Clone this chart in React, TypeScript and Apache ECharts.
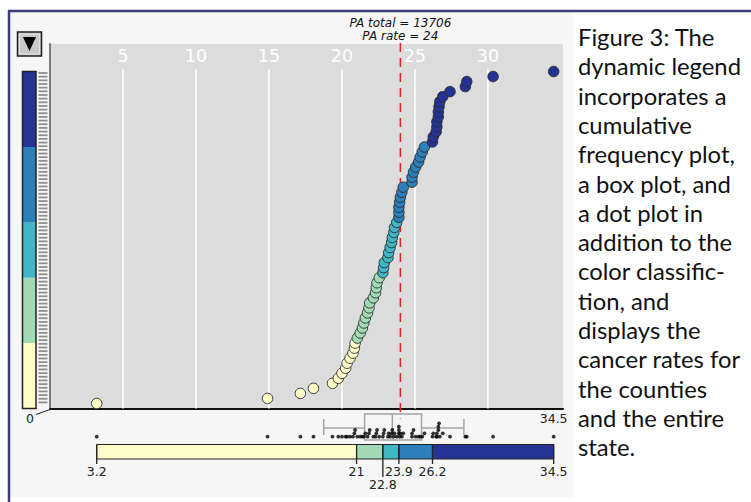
import React, { useEffect, useRef } from "react";
import * as echarts from "echarts";

// ---- data ----
const countyRates: number[] = [
  3.2, 14.9, 17.15, 18.05, 19.35, 19.75, 20.0, 20.25, 20.35, 20.55, 20.75, 20.85, 20.9,
  21.05, 21.25, 21.4, 21.5, 21.6, 21.75, 21.85, 21.9, 22.15, 22.3, 22.35, 22.4, 22.55,
  22.8, 22.85, 22.9, 23.15, 23.2, 23.3, 23.4, 23.45, 23.55, 23.6, 23.75,
  23.9, 23.9, 23.9, 23.95, 24.0, 24.1, 24.2, 24.8, 24.8, 24.9, 25.05, 25.25, 25.35, 25.5, 25.65,
  26.2, 26.25, 26.45, 26.5, 26.5, 26.6, 26.6, 26.65, 26.7, 26.9, 27.4, 28.45, 28.55, 30.35, 34.5,
];
const classBreaks: number[] = [3.2, 21, 22.8, 23.9, 26.2, 34.5];
const classColors: string[] = ["#ffffcc", "#a1dab4", "#41b6c4", "#2c7fb8", "#253494"];
const boxStats: number[] = [18.75, 21.55, 23.45, 25.45, 28.35];
const stateRate = 24;
const stateTotal = 13706;
const xTickValues: number[] = [5, 10, 15, 20, 25, 30];
const captionLines: string[] = [
  "Figure 3: The",
  "dynamic legend",
  "incorporates a",
  "cumulative",
  "frequency plot,",
  "a box plot, and",
  "a dot plot in",
  "addition to the",
  "color classific-",
  "tion, and",
  "displays the",
  "cancer rates for",
  "the counties",
  "and the entire",
  "state.",
];

// ---- derived ----
const X_MAX = 35.14;
const Y_MAX = 67.5;
const NUM_FONT = "'DejaVu Sans', sans-serif";

function classOf(v: number): number {
  let c = 0;
  for (let k = 1; k < classBreaks.length - 1; k++) if (v >= classBreaks[k]) c = k;
  return c;
}

const nCounties = countyRates.length;
const maxRate = Math.max(...countyRates);
const classCounts = classColors.map((_, i) => countyRates.filter((v) => classOf(v) === i).length);
const legendSegments: number[][] = [];
{
  let acc = 0;
  classCounts.forEach((c, i) => {
    legendSegments.push([acc, acc + c, i]);
    acc += c;
  });
}
const classSegments = classColors.map((_, i) => [classBreaks[i], classBreaks[i + 1], i]);
const breakRows: number[] = [];
classBreaks.forEach((b, i) => {
  const next = classBreaks[i + 1];
  const prevDown = i > 0 && breakRows[i - 1] === 1;
  breakRows.push(next !== undefined && next - b < 1.2 && !prevDown ? 1 : 0);
});
const breakItems = classBreaks.map((b, i) => [b, breakRows[i]]);

const DOT_BIN = 0.2;
const binCounts: Record<number, number> = {};
const dotData = countyRates.map((v) => {
  const b = Math.round(v / DOT_BIN);
  const lvl = binCounts[b] ?? 0;
  binCounts[b] = lvl + 1;
  return [v, lvl];
});

function buildOption(): any {
  const hatch: any[] = [];
  for (let y = 73; y <= 406; y += 3.66) {
    hatch.push({
      type: "line",
      shape: { x1: 38.5, y1: y, x2: 47.5, y2: y },
      style: { stroke: "#8e8e8e", lineWidth: 1.8 },
    });
  }

  const plain = (grid: number, min: number, max: number) => ({
    type: "value",
    gridIndex: grid,
    min,
    max,
    show: false,
  });

  return {
    animation: false,
    backgroundColor: "#ffffff",
    grid: [
      { left: 50, top: 69, width: 513, height: 339.5 },
      { left: 50, top: 414, width: 513, height: 26 },
      { left: 50, top: 410, width: 513, height: 30 },
      { left: 50, top: 444.5, width: 513, height: 14.5 },
      { left: 22.5, top: 71.5, width: 13.5, height: 337 },
      {
        left: 50,
        top: 44,
        width: 513,
        height: 364.5,
        show: true,
        backgroundColor: "#dcdcdc",
        borderWidth: 0,
      },
    ],
    xAxis: [
      plain(0, 0, X_MAX),
      plain(1, 0, X_MAX),
      plain(2, 0, X_MAX),
      plain(3, 0, X_MAX),
      plain(4, 0, 1),
      {
        type: "value",
        gridIndex: 5,
        min: 0,
        max: X_MAX,
        axisLine: { show: true, lineStyle: { color: "#111111", width: 2 } },
        axisTick: { show: false },
        axisLabel: { show: false },
        splitLine: { show: false },
      },
    ],
    yAxis: [
      plain(0, 0, Y_MAX),
      plain(1, -1, 1),
      plain(2, -1, 8),
      plain(3, 0, 1),
      plain(4, 0, nCounties),
      {
        type: "value",
        gridIndex: 5,
        min: 0,
        max: 1,
        axisLine: { show: true, lineStyle: { color: "#7a7a7a", width: 2 } },
        axisTick: { show: false },
        axisLabel: { show: false },
        splitLine: { show: false },
      },
    ],
    series: [
      {
        type: "custom",
        name: "gridlines",
        xAxisIndex: 0,
        yAxisIndex: 0,
        z: 1,
        silent: true,
        data: xTickValues.map((v) => [v]),
        renderItem: (params: any, api: any) => {
          const v = api.value(0);
          const [x, yb] = api.coord([v, 0]);
          const yt = api.coord([v, Y_MAX])[1];
          return {
            type: "group",
            children: [
              { type: "line", shape: { x1: x, y1: yt, x2: x, y2: yb }, style: { stroke: "#ffffff", lineWidth: 1.6 } },
              {
                type: "text",
                x,
                y: yt - 4,
                style: {
                  text: String(xTickValues[params.dataIndex]),
                  fill: "#ffffff",
                  font: "17.5px 'DejaVu Sans', sans-serif",
                  align: "center",
                  verticalAlign: "bottom",
                },
              },
            ],
          };
        },
      },
      {
        type: "custom",
        name: "state rate",
        xAxisIndex: 0,
        yAxisIndex: 0,
        z: 2,
        silent: true,
        data: [[stateRate, stateTotal]],
        renderItem: (params: any, api: any) => {
          const v = api.value(0);
          const [x, yb] = api.coord([v, 0]);
          const yt = api.coord([v, Y_MAX])[1];
          const font = "italic 12px 'DejaVu Sans', sans-serif";
          return {
            type: "group",
            children: [
              {
                type: "line",
                shape: { x1: x, y1: yt - 26, x2: x, y2: yb + 10 },
                style: { stroke: "#ee2020", lineWidth: 1.5, lineDash: [9, 6] },
              },
              {
                type: "text",
                x,
                y: yt - 46.5,
                style: { text: "PA total = " + stateTotal, fill: "#111111", font, align: "center", verticalAlign: "middle" },
              },
              {
                type: "text",
                x,
                y: yt - 33,
                style: { text: "PA rate = " + stateRate, fill: "#111111", font, align: "center", verticalAlign: "middle" },
              },
            ],
          };
        },
      },
      {
        type: "scatter",
        name: "counties",
        xAxisIndex: 0,
        yAxisIndex: 0,
        z: 3,
        clip: false,
        symbolSize: 10.5,
        data: countyRates.map((v, i) => [v, i + 1]),
        itemStyle: {
          color: (p: any) => classColors[classOf(p.value[0])],
          borderColor: "#2a2a2a",
          borderWidth: 0.9,
          opacity: 1,
        },
      },
      {
        type: "custom",
        name: "max label",
        xAxisIndex: 0,
        yAxisIndex: 0,
        silent: true,
        data: [[maxRate, 0]],
        renderItem: (params: any, api: any) => {
          const [x, y] = api.coord([api.value(0), api.value(1)]);
          return {
            type: "text",
            x,
            y: y + 10,
            style: { text: String(maxRate), fill: "#222222", font: "12.5px " + NUM_FONT, align: "center", verticalAlign: "middle" },
          };
        },
      },
      {
        type: "custom",
        name: "box plot",
        xAxisIndex: 1,
        yAxisIndex: 1,
        silent: true,
        data: [boxStats],
        renderItem: (params: any, api: any) => {
          const pts = [0, 1, 2, 3, 4].map((i) => api.coord([api.value(i), 0]));
          const yc = pts[0][1];
          const H = 13;
          const C = 8;
          const st = { stroke: "#a4a4a4", lineWidth: 1.5, fill: "none" };
          return {
            type: "group",
            children: [
              { type: "rect", shape: { x: pts[1][0], y: yc - H, width: pts[3][0] - pts[1][0], height: 2 * H }, style: st },
              { type: "line", shape: { x1: pts[2][0], y1: yc - H, x2: pts[2][0], y2: yc + H }, style: st },
              { type: "line", shape: { x1: pts[0][0], y1: yc + 1, x2: pts[1][0], y2: yc + 1 }, style: st },
              { type: "line", shape: { x1: pts[3][0], y1: yc + 1, x2: pts[4][0], y2: yc + 1 }, style: st },
              { type: "line", shape: { x1: pts[0][0], y1: yc - C, x2: pts[0][0], y2: yc + C }, style: st },
              { type: "line", shape: { x1: pts[4][0], y1: yc - C, x2: pts[4][0], y2: yc + C }, style: st },
            ],
          };
        },
      },
      {
        type: "scatter",
        name: "dot plot",
        xAxisIndex: 2,
        yAxisIndex: 2,
        z: 4,
        clip: false,
        symbolSize: 3.8,
        itemStyle: { color: "#000000" },
        data: dotData,
      },
      {
        type: "custom",
        name: "class bar",
        xAxisIndex: 3,
        yAxisIndex: 3,
        silent: true,
        data: classSegments,
        renderItem: (params: any, api: any) => {
          const p0 = api.coord([api.value(0), 1]);
          const p1 = api.coord([api.value(1), 0]);
          return {
            type: "rect",
            shape: { x: p0[0], y: p0[1], width: p1[0] - p0[0], height: p1[1] - p0[1] },
            style: { fill: classColors[api.value(2)], stroke: "#222222", lineWidth: 1 },
          };
        },
      },
      {
        type: "custom",
        name: "class breaks",
        xAxisIndex: 3,
        yAxisIndex: 3,
        silent: true,
        z: 3,
        data: breakItems,
        renderItem: (params: any, api: any) => {
          const b = api.value(0);
          const row = api.value(1);
          const top = api.coord([b, 1]);
          const bot = api.coord([b, 0]);
          return {
            type: "group",
            children: [
              {
                type: "line",
                shape: { x1: top[0], y1: top[1], x2: top[0], y2: bot[1] + (row ? 18 : 5) },
                style: { stroke: "#222222", lineWidth: 1.3 },
              },
              {
                type: "text",
                x: top[0],
                y: bot[1] + (row ? 25 : 12),
                style: {
                  text: String(classBreaks[params.dataIndex]),
                  fill: "#222222",
                  font: "12.5px " + NUM_FONT,
                  align: "center",
                  verticalAlign: "middle",
                },
              },
            ],
          };
        },
      },
      {
        type: "custom",
        name: "legend bar",
        xAxisIndex: 4,
        yAxisIndex: 4,
        silent: true,
        data: legendSegments,
        renderItem: (params: any, api: any) => {
          const pTop = api.coord([0, api.value(1)]);
          const pBot = api.coord([1, api.value(0)]);
          return {
            type: "rect",
            shape: { x: pTop[0], y: pTop[1], width: pBot[0] - pTop[0], height: pBot[1] - pTop[1] },
            style: { fill: classColors[api.value(2)] },
          };
        },
      },
      {
        type: "custom",
        name: "legend outline",
        xAxisIndex: 4,
        yAxisIndex: 4,
        silent: true,
        z: 3,
        data: [[0, nCounties]],
        renderItem: (params: any, api: any) => {
          const pTop = api.coord([0, api.value(1)]);
          const pBot = api.coord([1, api.value(0)]);
          return {
            type: "rect",
            shape: { x: pTop[0], y: pTop[1], width: pBot[0] - pTop[0], height: pBot[1] - pTop[1] },
            style: { fill: "none", stroke: "#222222", lineWidth: 1.5 },
          };
        },
      },
    ],
    graphic: {
      elements: [
        { type: "rect", z: -10, silent: true, shape: { x: 10, y: 12, width: 563, height: 485 }, style: { fill: "#f6f6f6" } },
        { type: "line", z: -9, silent: true, shape: { x1: 8, y1: 11, x2: 751, y2: 11 }, style: { stroke: "#3d3d7a", lineWidth: 2.5 } },
        { type: "line", z: -9, silent: true, shape: { x1: 9, y1: 10, x2: 9, y2: 502 }, style: { stroke: "#3d3d7a", lineWidth: 2.5 } },
        {
          type: "group",
          silent: true,
          children: [
            { type: "rect", shape: { x: 17.5, y: 32, width: 24, height: 24 }, style: { fill: "#c9c9c9", stroke: "#1e1e1e", lineWidth: 1.5 } },
            { type: "rect", shape: { x: 19.5, y: 34, width: 20, height: 20 }, style: { fill: "none", stroke: "#e4e4e4", lineWidth: 1 } },
            { type: "polygon", shape: { points: [[23, 37], [36, 37], [29.5, 51]] }, style: { fill: "#000000" } },
          ],
        },
        { type: "group", silent: true, children: hatch },
        { type: "line", silent: true, shape: { x1: 36, y1: 414.5, x2: 50, y2: 409.5 }, style: { stroke: "#222222", lineWidth: 1 } },
        {
          type: "text",
          silent: true,
          x: 30,
          y: 418.5,
          style: { text: "0", fill: "#222222", font: "12.5px " + NUM_FONT, align: "center", verticalAlign: "middle" },
        },
        {
          type: "text",
          silent: true,
          x: 578,
          y: 22.4,
          style: {
            text: captionLines.join("\n"),
            fill: "#111111",
            font: "23.8px Lato, 'Open Sans', sans-serif",
            lineHeight: 29.3,
            verticalAlign: "top",
          },
        },
      ],
    },
  };
}

export default function App() {
  const ref = useRef<HTMLDivElement>(null);
  useEffect(() => {
    if (!ref.current) return;
    const chart = echarts.init(ref.current, null, { renderer: "svg" });
    chart.setOption(buildOption());
    return () => chart.dispose();
  }, []);
  return <div ref={ref} style={{ position: "fixed", left: 0, top: 0, width: 751, height: 502 }} />;
}
